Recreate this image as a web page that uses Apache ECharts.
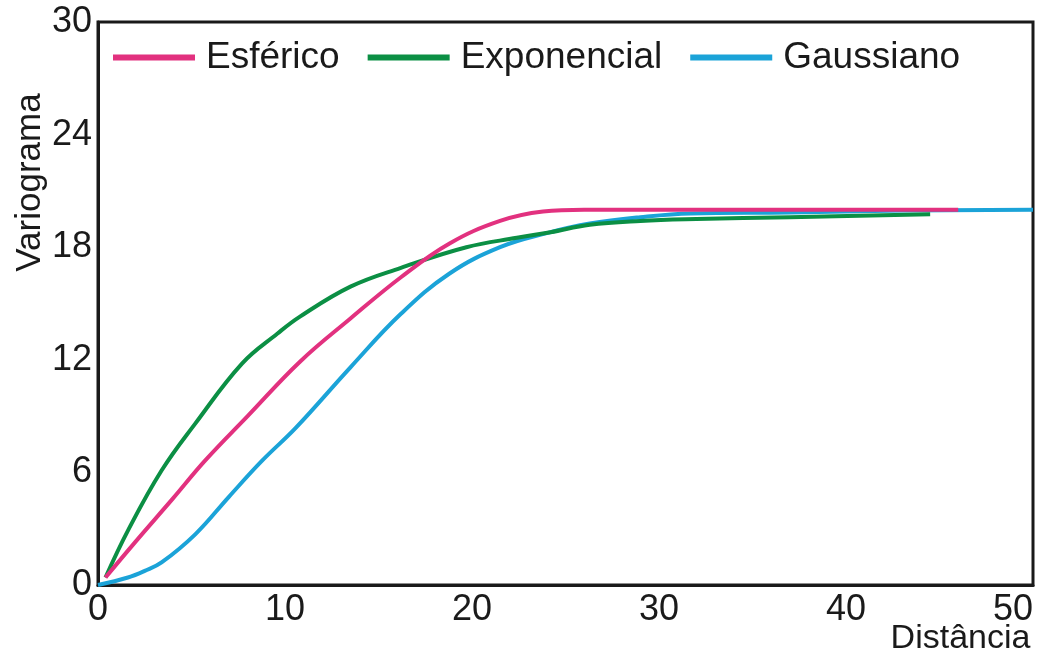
<!DOCTYPE html>
<html><head><meta charset="utf-8">
<script src="https://cdn.jsdelivr.net/npm/echarts@6/dist/echarts.min.js"></script>
<style>html,body{margin:0;padding:0;background:#fff}#c{width:1049px;height:659px}</style>
</head><body><div id="c"></div>
<script>
const seriesNames = ['Esférico', 'Exponencial', 'Gaussiano'];
const esferico = [[0.4,0.4],[2,2.3],[4,4.6],[5.7,6.6],[8,9.0],[10.8,11.9],[13.5,14.2],[16.2,16.4],[18.8,18.2],[21.5,19.4],[23.8,19.9],[26,20],[30,20],[35,20],[40,20],[46,20]];
const exponencial = [[0.4,0.4],[1.6,2.9],[3.4,6.1],[5.2,8.6],[7.7,11.8],[9.6,13.4],[10.8,14.3],[13.5,15.9],[16.2,16.9],[19.7,18.0],[22.4,18.5],[24.2,18.8],[26.3,19.2],[29,19.4],[32,19.5],[37,19.6],[44.5,19.75]];
const gaussiano = [[0,0],[1.6,0.4],[2.5,0.75],[3.4,1.2],[5.2,2.7],[7,4.7],[8.75,6.6],[10.6,8.4],[13.5,11.6],[16.2,14.45],[18.8,16.6],[21.5,18.0],[24,18.75],[26.3,19.26],[29,19.6],[31.7,19.8],[37,19.85],[43,19.95],[50,20]];
const xTicks = {min: 0, max: 50, interval: 10};
const yTicks = {min: 0, max: 30, interval: 6};
const xName = 'Distância';
const yName = 'Variograma';
const colors = {'Esférico': '#E2317F', 'Exponencial': '#0B8F44', 'Gaussiano': '#1BA3D8'};

const font = 'Liberation Sans, Arial, sans-serif';
const chart = echarts.init(document.getElementById('c'), null, {renderer: 'canvas'});
const mk = (name, data, z) => ({
  name, type: 'line', data, smooth: 0.4, showSymbol: false, symbol: 'none', z,
  lineStyle: {color: colors[name], width: 4}, itemStyle: {color: colors[name]}
});
chart.setOption({
  animation: false,
  grid: {left: 98, right: 16, top: 22, bottom: 74, show: true, borderColor: '#1a1a1a', borderWidth: 3, containLabel: false, outerBoundsMode: 'none'},
  legend: {
    data: seriesNames, left: 108, top: 34, icon: 'rect', itemWidth: 82, itemHeight: 6, itemGap: 28,
    textStyle: {fontFamily: font, fontSize: 37, color: '#1a1a1a', padding: [0, 0, 0, 6]}
  },
  xAxis: {
    type: 'value', min: xTicks.min, max: xTicks.max, interval: xTicks.interval,
    name: xName, nameLocation: 'middle', nameGap: 37, nameMoveOverlap: false,
    nameTextStyle: {fontFamily: font, fontSize: 34, color: '#1a1a1a', padding: [0, 0, 0, 790]},
    axisLine: {show: true, lineStyle: {color: '#1a1a1a', width: 3}},
    axisTick: {show: false}, splitLine: {show: false},
    axisLabel: {fontFamily: font, fontSize: 36, color: '#1a1a1a', margin: 7, alignMaxLabel: 'right'}
  },
  yAxis: {
    type: 'value', min: yTicks.min, max: yTicks.max, interval: yTicks.interval,
    name: yName, nameLocation: 'middle', nameGap: 50, nameRotate: 90, nameMoveOverlap: false,
    nameTextStyle: {fontFamily: font, fontSize: 35, color: '#1a1a1a', padding: [0, 0, 0, 242]},
    axisLine: {show: true, lineStyle: {color: '#1a1a1a', width: 3}},
    axisTick: {show: false}, splitLine: {show: false},
    axisLabel: {fontFamily: font, fontSize: 36, color: '#1a1a1a', margin: 6}
  },
  series: [mk('Gaussiano', gaussiano, 2), mk('Exponencial', exponencial, 3), mk('Esférico', esferico, 4)]
});
</script></body></html>
